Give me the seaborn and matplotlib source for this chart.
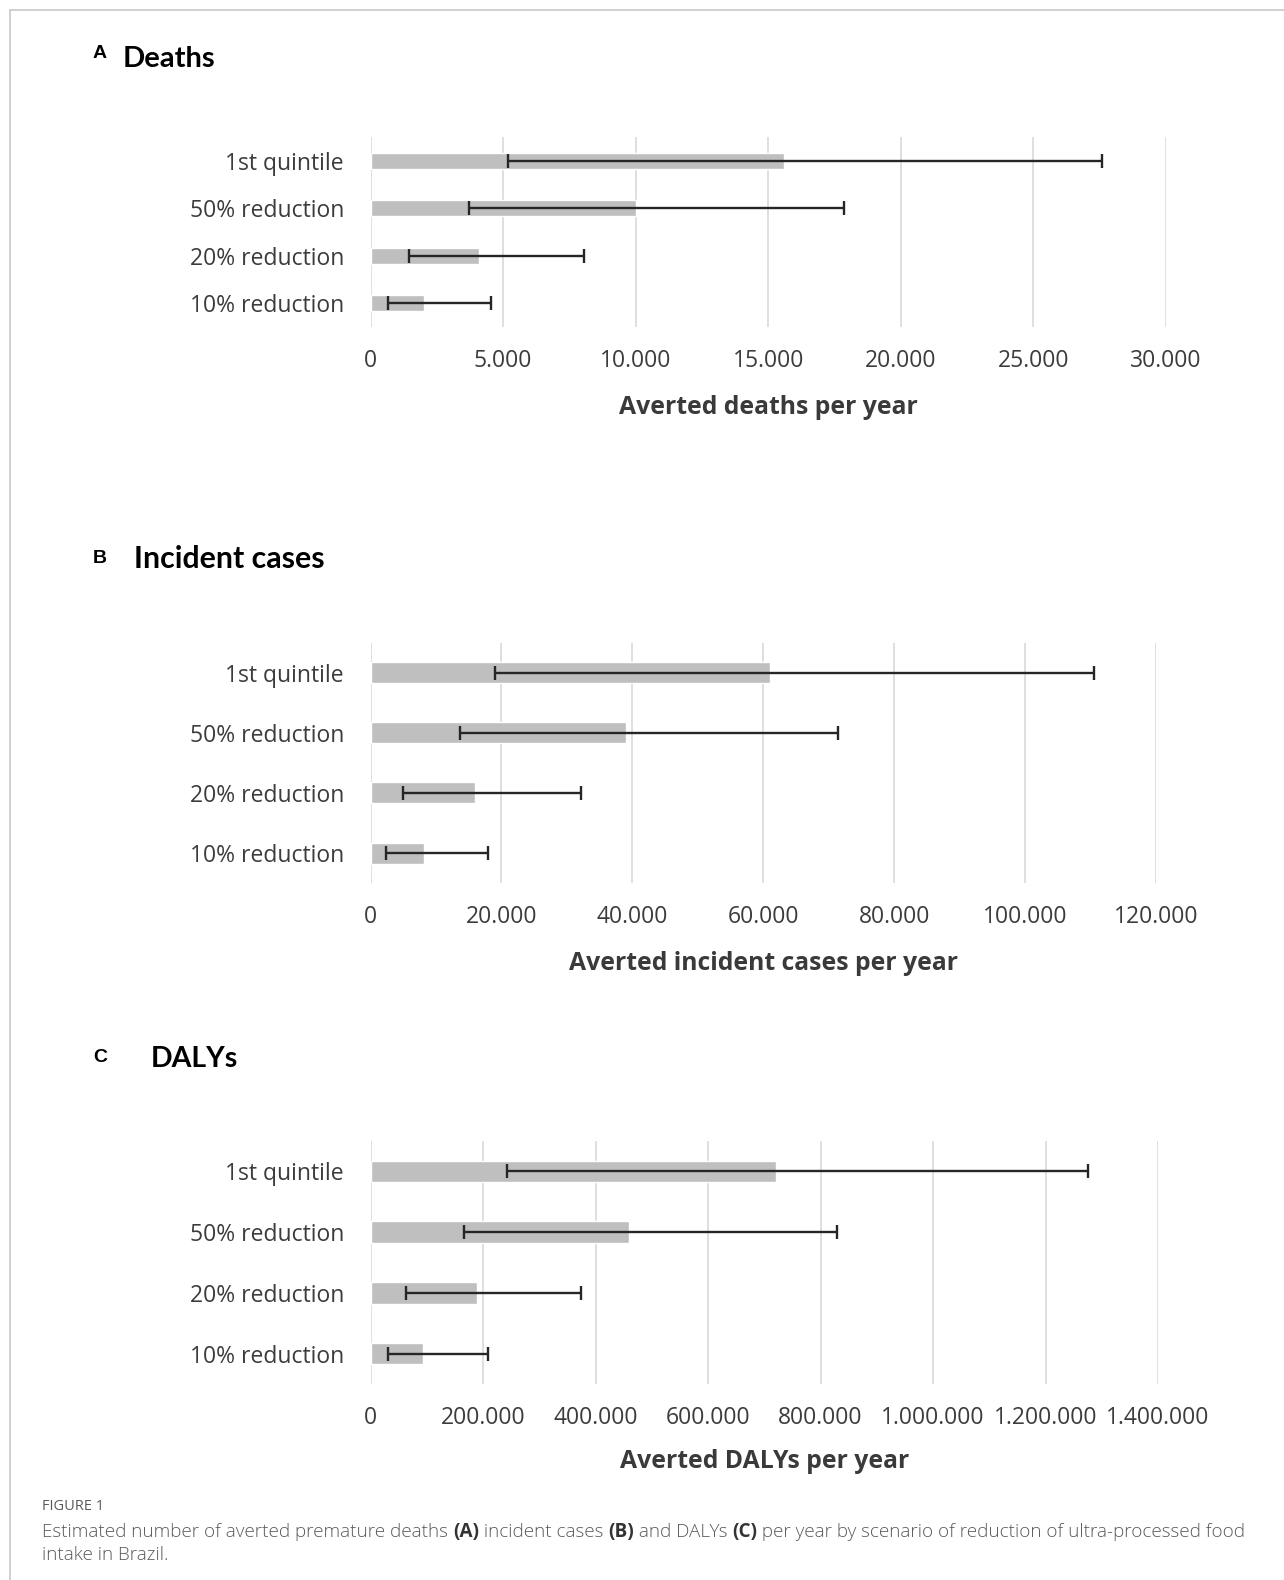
import matplotlib
matplotlib.use("Agg")
import matplotlib.pyplot as plt
from matplotlib.ticker import FuncFormatter, MultipleLocator
from matplotlib.lines import Line2D
import numpy as np
import pandas as pd
import seaborn as sns

# Scenarios (top to bottom)
scenarios = ["1st quintile", "50% reduction", "20% reduction", "10% reduction"]

# Averted deaths per year: point estimate, lower and upper limits
deaths = [15600, 10000, 4100, 2000]
deaths_lo = [5200, 3700, 1450, 670]
deaths_hi = [27600, 17850, 8050, 4550]

# Averted incident cases per year
cases = [61000, 39000, 16000, 8200]
cases_lo = [19000, 13600, 5000, 2300]
cases_hi = [110500, 71400, 32200, 18000]

# Averted DALYs per year
dalys = [720000, 460000, 190000, 94000]
dalys_lo = [242000, 167000, 63000, 31500]
dalys_hi = [1276000, 829000, 375000, 208500]

sns.set_theme(style="white")
plt.rcParams["font.family"] = ["Open Sans", "DejaVu Sans"]

W, H = 1284, 1580
fig = plt.figure(figsize=(W / 100, H / 100), dpi=100)
fig.patch.set_facecolor("white")

BAR = "#bfbfbf"
GRID = "#d9d9d9"
ERR = "#262626"
LABEL = "#3c3c3c"


def px_axes(left, top, right, bottom):
    return fig.add_axes([left / W, 1 - bottom / H, (right - left) / W, (bottom - top) / H])


def thousands(v, _pos):
    return f"{int(round(v)):,}".replace(",", ".")


def panel(box, vals, lo, hi, xmax, step, xlabel, xlabel_y, bar_w):
    ax = px_axes(*box)
    df = pd.DataFrame({"scenario": scenarios, "value": vals})
    sns.barplot(data=df, x="value", y="scenario", orient="h", color=BAR,
                saturation=1, width=bar_w, errorbar=None, ax=ax, zorder=2)
    v = np.asarray(vals, dtype=float)
    xerr = [v - np.asarray(lo, dtype=float), np.asarray(hi, dtype=float) - v]
    ax.errorbar(v, np.arange(len(vals)), xerr=xerr, fmt="none", ecolor=ERR,
                elinewidth=1.7, capsize=5, capthick=1.7, zorder=3)
    ax.set_xlim(0, xmax)
    ax.set_ylim(len(vals) - 0.5, -0.5)
    ax.xaxis.set_major_locator(MultipleLocator(step))
    ax.xaxis.set_major_formatter(FuncFormatter(thousands))
    ax.grid(axis="x", color=GRID, linewidth=1.2, zorder=0)
    ax.grid(axis="y", visible=False)
    ax.set_axisbelow(True)
    for s in ax.spines.values():
        s.set_visible(False)
    ax.tick_params(axis="y", length=0, pad=19, labelsize=16.5, labelcolor=LABEL)
    ax.tick_params(axis="x", length=0, pad=16, labelsize=16.5, labelcolor=LABEL)
    ax.set_xlabel("")
    ax.set_ylabel("")
    xc = (box[0] + box[2]) / 2
    fig.text(xc / W, 1 - xlabel_y / H, xlabel, ha="center", va="center",
             fontsize=17.8, fontweight="bold", color="#3a3a3a")
    return ax


panel((370.5, 137, 1166, 327), deaths, deaths_lo, deaths_hi, 30000, 5000,
      "Averted deaths per year", 408, 0.34)
panel((370.5, 643, 1156, 883), cases, cases_lo, cases_hi, 120000, 20000,
      "Averted incident cases per year", 964, 0.35)
panel((370.5, 1141, 1158, 1384), dalys, dalys_lo, dalys_hi, 1400000, 200000,
      "Averted DALYs per year", 1461, 0.35)

# Panel letters and headings
heads = [("A", 93, 58, "Deaths", 123, 67, 21),
         ("B", 93, 563, "Incident cases", 134, 568, 21.8),
         ("C", 93, 1062, "DALYs", 151, 1067, 20.5)]
for letter, lx, ly, title, tx, ty, fs in heads:
    fig.text(lx / W, 1 - ly / H, letter, ha="left", va="baseline", fontsize=14,
             fontweight="bold", color="black", family=["Liberation Sans", "DejaVu Sans"])
    fig.text(tx / W, 1 - ty / H, title, ha="left", va="baseline", fontsize=fs,
             fontweight="bold", color="black", family=["Lato", "DejaVu Sans"])

# Frame lines
fig.add_artist(Line2D([10 / W, 1], [1 - 10 / H, 1 - 10 / H], color="#c8c8c8", lw=1.2))
fig.add_artist(Line2D([10 / W, 10 / W], [0, 1 - 10 / H], color="#c8c8c8", lw=1.2))

# Caption
CAP = "#5a5a5a"
fig.text(42 / W, 1 - 1506 / H, "FIGURE 1", ha="left", va="center", fontsize=10.5,
         color=CAP, family=["Open Sans", "DejaVu Sans"])

renderer = fig.canvas.get_renderer()


def rich_line(x_px, y_px, parts, size):
    x = x_px
    for txt, bold in parts:
        t = fig.text(x / W, 1 - y_px / H, txt, ha="left", va="center", fontsize=size,
                     color=CAP if not bold else "#333333",
                     fontweight="bold" if bold else "light",
                     family=["Open Sans", "DejaVu Sans"])
        bb = t.get_window_extent(renderer=renderer)
        x += bb.width


rich_line(42, 1532, [("Estimated number of averted premature deaths ", False), ("(A)", True),
                     (" incident cases ", False), ("(B)", True), (" and DALYs ", False),
                     ("(C)", True),
                     (" per year by scenario of reduction of ultra-processed food", False)], 13.6)
rich_line(42, 1555, [("intake in Brazil.", False)], 13.6)

fig.savefig("out.png", dpi=100, facecolor="white")
